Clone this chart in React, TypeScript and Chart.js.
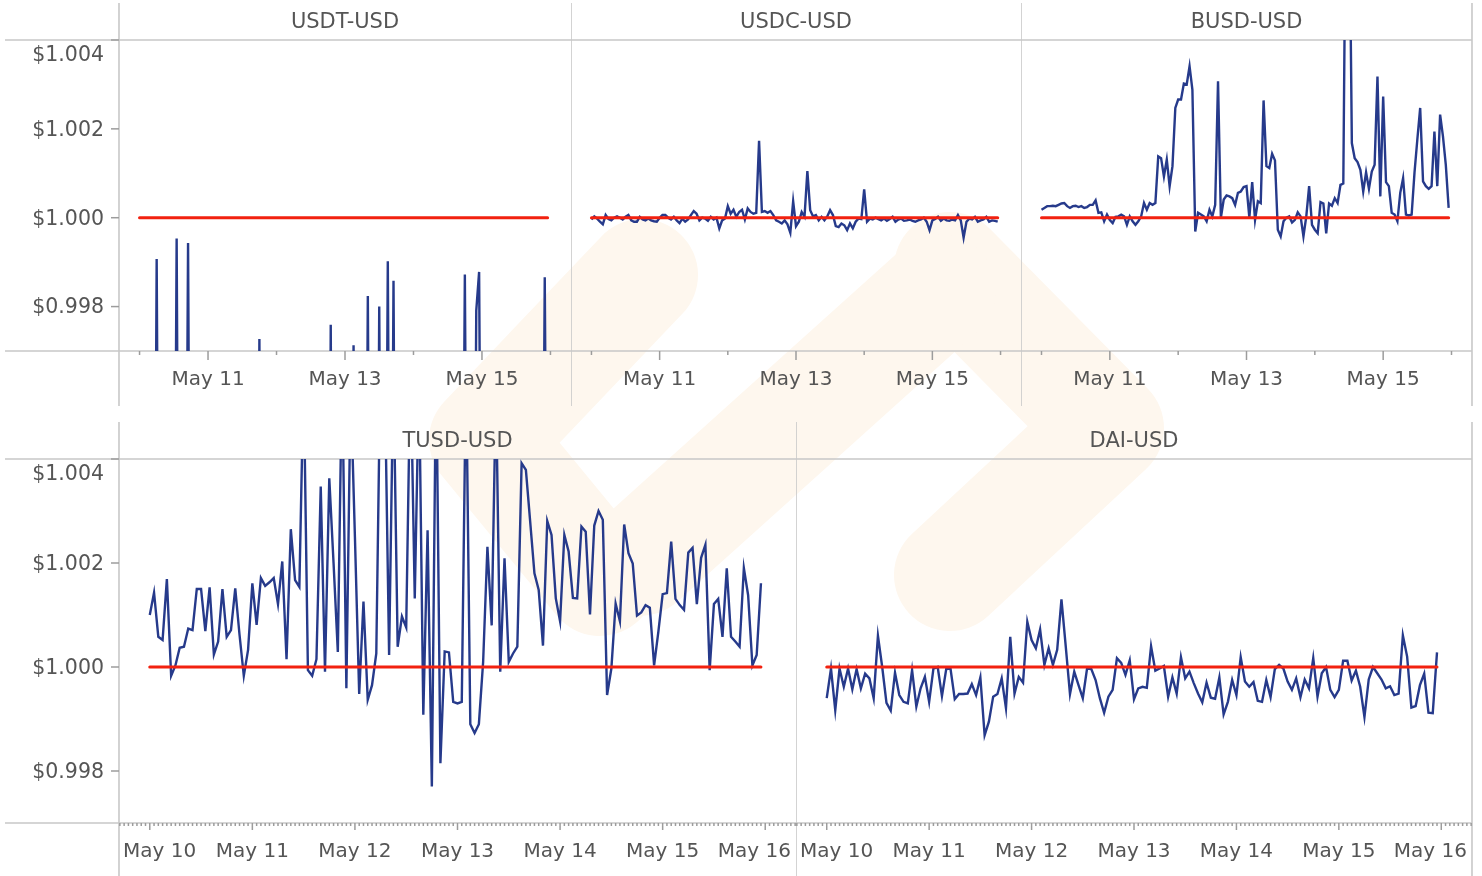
import React, { useEffect, useRef } from "react";
import { Chart, registerables } from "chart.js";

Chart.register(...registerables);

// hourly observations, hours since May 10 00:00 (144 points)
const HOURS: number[] = Array.from({ length: 144 }, (_, i) => i);
const DAY_LABELS = ["May 10", "May 11", "May 12", "May 13", "May 14", "May 15", "May 16"];
const Y_TICKS = [0.998, 1.0, 1.002, 1.004];
const PEG = 1.0;

const USDT = [
  0.9885, 0.9878, 0.9890, 0.9872, 0.9881, 0.9869, 0.99907, 0.9874, 0.9866, 0.9880, 0.9871, 0.9862,
  0.9877, 0.99953, 0.9868, 0.9875, 0.9883, 0.99943, 0.9870, 0.9864, 0.9858, 0.9866, 0.9851, 0.9860,
  0.9848, 0.9855, 0.9842, 0.9850, 0.9839, 0.9846, 0.9852, 0.9841, 0.9836, 0.9844, 0.9849, 0.9838,
  0.9845, 0.9832, 0.9840, 0.9847, 0.9835, 0.9843, 0.99727, 0.9838, 0.9829, 0.9836, 0.9824, 0.9831,
  0.9822, 0.9815, 0.9827, 0.9810, 0.9818, 0.9805, 0.9812, 0.9820, 0.9808, 0.9816, 0.9824, 0.9811,
  0.9819, 0.9826, 0.9814, 0.9829, 0.9835, 0.9822, 0.9838, 0.99759, 0.9844, 0.9851, 0.9839, 0.9856,
  0.9848, 0.9860, 0.9853, 0.99713, 0.9862, 0.9857, 0.9866, 0.9871, 0.99824, 0.9869, 0.9875, 0.9863,
  0.99800, 0.9872, 0.9880, 0.99902, 0.9876, 0.99858, 0.9868, 0.9874, 0.9881, 0.9870, 0.9877, 0.9884,
  0.9879, 0.9886, 0.9873, 0.9882, 0.9888, 0.9876, 0.9883, 0.9890, 0.9879, 0.9886, 0.9875, 0.9884,
  0.9891, 0.9880, 0.9887, 0.9878, 0.9885, 0.9892, 0.99872, 0.9883, 0.9889, 0.9878, 0.99791, 0.99878,
  0.9886, 0.9893, 0.9881, 0.9888, 0.9895, 0.9884, 0.9890, 0.9879, 0.9887, 0.9894, 0.9882, 0.9889,
  0.9896, 0.9885, 0.9892, 0.9880, 0.9888, 0.9895, 0.9883, 0.9890, 0.9898, 0.9886, 0.99866, 0.9891,
];

const USDC = [
  0.99996, 1.00003, 0.99998, 0.99991, 0.99985, 1.00006, 0.99997, 0.99994, 1.0, 1.00003, 1.0, 0.99996,
  1.00002, 1.00006, 0.99994, 0.99991, 0.99991, 1.00002, 0.99996, 0.99994, 0.99998, 0.99994, 0.99992, 0.99991,
  1.0, 1.00006, 1.00006, 1.0, 0.99996, 1.00002, 0.99994, 0.99988, 0.99998, 0.99991, 0.99996, 1.00006,
  1.00015, 1.00009, 0.99994, 1.0, 0.99998, 0.99993, 1.00002, 0.99996, 1.0, 0.99976, 0.99994, 0.99998,
  1.00026, 1.00009, 1.00018, 1.00002, 1.00013, 1.00018, 0.99996, 1.00021, 1.00013, 1.00009, 1.00011, 1.00173,
  1.00013, 1.00015, 1.00011, 1.00015, 1.00006, 0.99994, 0.99991, 0.99987, 0.99994, 0.99985, 0.99966, 1.00037,
  0.99981, 0.99991, 1.00013, 1.00002, 1.00105, 1.00017, 1.00003, 1.00006, 0.99994, 1.00002, 0.99994, 1.00003,
  1.00017, 1.00006, 0.99981, 0.99979, 0.99987, 0.99983, 0.99972, 0.99987, 0.99976, 0.99991, 0.99998, 0.99997,
  1.00064, 0.99991, 0.99998, 0.99996, 1.0, 0.99997, 0.99994, 0.99998, 0.99993, 0.99997, 1.00002, 0.99991,
  0.99996, 0.99998, 0.99993, 0.99994, 0.99996, 0.99993, 0.99991, 0.99994, 0.99996, 1.0, 0.99991, 0.99972,
  0.99994, 0.99997, 1.00002, 0.99993, 0.99998, 0.99994, 0.99993, 0.99996, 0.99994, 1.00006, 0.99994, 0.99955,
  0.99991, 0.99998, 0.99996, 1.00002, 0.99991, 0.99994, 0.99996, 1.00002, 0.99991, 0.99994, 0.99993, 0.99991,
];

const BUSD = [
  1.00018, 1.00022, 1.00026, 1.00026, 1.00027, 1.00026, 1.00029, 1.00032, 1.00033, 1.00026, 1.00022, 1.00026,
  1.00027, 1.00024, 1.00026, 1.00022, 1.00024, 1.00029, 1.00029, 1.00039, 1.00011, 1.00012, 0.99992, 1.00007,
  0.99995, 0.99988, 1.00002, 1.00003, 1.00007, 1.00003, 0.99984, 1.00003, 0.99992, 0.99984, 0.99992, 1.00003,
  1.00033, 1.00018, 1.00033, 1.00029, 1.00033, 1.00138, 1.00134, 1.00093, 1.00131, 1.00071, 1.00116, 1.00247,
  1.00266, 1.00266, 1.00302, 1.003, 1.00341, 1.00288, 0.99969, 1.00011, 1.00007, 1.00003, 0.99992, 1.00018,
  1.00003, 1.00029, 1.00307, 1.0, 1.00041, 1.0005, 1.00048, 1.00044, 1.00029, 1.00056, 1.00059, 1.00069,
  1.00071, 1.0, 1.0008, 0.99995, 1.00037, 1.00033, 1.00264, 1.00116, 1.00112, 1.00144, 1.00129, 0.99973,
  0.99958, 0.99992, 1.0, 1.00003, 0.99989, 0.99995, 1.00012, 1.00003, 0.99958, 1.00003, 1.00071, 0.99984,
  0.99973, 0.99965, 1.00035, 1.00032, 0.99965, 1.00032, 1.00027, 1.00044, 1.00033, 1.00074, 1.00077, 1.0085,
  1.008, 1.00168, 1.00134, 1.00125, 1.00108, 1.00059, 1.00102, 1.00065, 1.00104, 1.00119, 1.00318, 1.00048,
  1.00273, 1.0008, 1.00071, 1.00011, 1.00007, 0.99992, 1.00056, 1.00089, 1.00007, 1.00005, 1.00007, 1.00101,
  1.00176, 1.00247, 1.00082, 1.00071, 1.00065, 1.00071, 1.00194, 1.00071, 1.00232, 1.00183, 1.00119, 1.00022,
];

const TUSD = [
  1.001, 1.00143, 1.00058, 1.00052, 1.00169, 0.99983, 1.00003, 1.00037, 1.00039, 1.00074, 1.00071, 1.0015,
  1.0015, 1.00069, 1.00153, 1.00024, 1.00049, 1.0015, 1.00058, 1.00071, 1.00151, 1.00062, 0.99983, 1.00033,
  1.00161, 1.00081, 1.00171, 1.00156, 1.00163, 1.00171, 1.00121, 1.00203, 1.00015, 1.00265, 1.00167, 1.00154,
  1.0056, 0.99994, 0.99983, 1.00015, 1.00347, 0.99991, 1.00363, 1.002, 1.00029, 1.0058, 0.99959, 1.0054,
  1.0025, 0.99948, 1.00126, 0.99937, 0.99965, 1.00026, 1.0061, 1.0055, 1.00023, 1.0057, 1.00039, 1.00097,
  1.00076, 1.0059, 1.00132, 1.0056, 0.99908, 1.00263, 0.9977, 1.006, 0.99815, 1.0003, 1.00028, 0.99933,
  0.9993, 0.99933, 1.0058, 0.9989, 0.99873, 0.9989, 1.0001, 1.00231, 1.0008, 1.0054, 0.99991, 1.00209,
  1.0001, 1.00026, 1.00039, 1.00392, 1.00379, 1.0028, 1.0018, 1.00148, 1.00041, 1.00281, 1.00254, 1.00132,
  1.00088, 1.00254, 1.00222, 1.00133, 1.00132, 1.0027, 1.0026, 1.00101, 1.00272, 1.003, 1.00283, 0.99946,
  0.99997, 1.00122, 1.00088, 1.00274, 1.00219, 1.00199, 1.00099, 1.00105, 1.00119, 1.00114, 1.00003, 1.00068,
  1.0014, 1.00142, 1.00241, 1.00131, 1.00119, 1.0011, 1.0022, 1.00229, 1.00121, 1.0021, 1.00235, 0.99994,
  1.00121, 1.00131, 1.00058, 1.0019, 1.00058, 1.00049, 1.00039, 1.0019, 1.00138, 1.00003, 1.00023, 1.00161,
];

const DAI = [
  0.9994, 0.99997, 0.99917, 0.99997, 0.99962, 0.99997, 0.99957, 0.99996, 0.99959, 0.99987, 0.99978, 0.9994,
  1.0006, 1.0, 0.99931, 0.99916, 0.99989, 0.99946, 0.99933, 0.9993, 0.99994, 0.99924, 0.99959, 0.99981,
  0.99933, 0.99997, 1.0, 0.99944, 0.99996, 0.99997, 0.99938, 0.99948, 0.99948, 0.99949, 0.99967, 0.99946,
  0.9998, 0.99869, 0.99895, 0.99943, 0.99948, 0.99978, 0.99921, 1.00058, 0.99949, 0.99981, 0.9997, 1.00087,
  1.00052, 1.00036, 1.00072, 1.00004, 1.00036, 1.00004, 1.00033, 1.0013, 1.0004, 0.99948, 0.99991, 0.99965,
  0.9994, 0.99997, 0.99996, 0.99975, 0.9994, 0.99912, 0.99943, 0.99956, 1.00017, 1.00008, 0.99985, 1.00013,
  0.99938, 0.99959, 0.99962, 0.9996, 1.0004, 0.99993, 0.99997, 1.00002, 0.99943, 0.9998, 0.99949, 1.00019,
  0.99978, 0.99991, 0.99969, 0.99949, 0.99932, 0.9997, 0.99941, 0.99939, 0.9998, 0.99909, 0.99933, 0.99975,
  0.99946, 1.00019, 0.99972, 0.99962, 0.99971, 0.99935, 0.99933, 0.99975, 0.99942, 0.99996, 1.00004, 0.99997,
  0.99972, 0.99956, 0.99978, 0.99942, 0.99976, 0.99959, 1.00017, 0.99943, 0.99988, 1.0, 0.99956, 0.99942,
  0.99956, 1.00012, 1.00012, 0.99974, 0.99993, 0.99962, 0.99904, 0.99976, 1.0, 0.99988, 0.99976, 0.99959,
  0.99963, 0.99946, 0.99949, 1.00061, 1.0002, 0.99922, 0.99925, 0.99965, 0.99987, 0.99912, 0.99911, 1.00028,
];

// axis domain (hours), with padding around the 6-day window
const X_MIN = -7.2;
const X_MAX = 151.2;
const Y_MIN = 0.997;
const Y_MAX = 1.004;

const FAMILY = '"DejaVu Sans", "Liberation Sans", sans-serif';
const TEXT_COLOR = "#555555";
const FRAME_COLOR = "#c8c8c8";
const TICK_COLOR = "#9c9c9c";
const LINE_COLOR = "#263a8b";
const PEG_COLOR = "#f2210f";
const WATERMARK = "#fef7ee";

type Row = { rowTop: number; rowBottom: number; headerTop: number; plotTop: number; plotBottom: number; frameBottom: number; dense: boolean };
const ROW1: Row = { rowTop: 0, rowBottom: 412, headerTop: 3, plotTop: 40, plotBottom: 351, frameBottom: 406, dense: false };
const ROW2: Row = { rowTop: 412, rowBottom: 876, headerTop: 422, plotTop: 459, plotBottom: 823, frameBottom: 876, dense: true };

type Panel = { title: string; series: number[]; left: number; right: number; row: Row; yAxis: boolean; lastCol: boolean };

const PANELS: Panel[] = [
  { title: "USDT-USD", series: USDT, left: 119, right: 571, row: ROW1, yAxis: true, lastCol: false },
  { title: "USDC-USD", series: USDC, left: 571, right: 1021, row: ROW1, yAxis: false, lastCol: false },
  { title: "BUSD-USD", series: BUSD, left: 1021, right: 1472, row: ROW1, yAxis: false, lastCol: true },
  { title: "TUSD-USD", series: TUSD, left: 119, right: 796, row: ROW2, yAxis: true, lastCol: false },
  { title: "DAI-USD", series: DAI, left: 796, right: 1472, row: ROW2, yAxis: false, lastCol: true },
];

function makeDecor(p: Panel) {
  return {
    id: "decor",
    beforeDatasetsDraw(chart: any) {
      const ctx: CanvasRenderingContext2D = chart.ctx;
      const a = chart.chartArea;
      const xs = chart.scales.x;
      const ys = chart.scales.y;
      const r = p.row;
      const headerTop = r.headerTop - r.rowTop;
      const frameBottom = r.frameBottom - r.rowTop;
      ctx.save();
      // frame
      ctx.strokeStyle = FRAME_COLOR;
      ctx.lineWidth = 1.6;
      const lx = p.yAxis ? 5 : a.left;
      ctx.beginPath();
      ctx.moveTo(lx, a.top);
      ctx.lineTo(a.right, a.top);
      ctx.moveTo(lx, a.bottom);
      ctx.lineTo(a.right, a.bottom);
      ctx.moveTo(a.left, headerTop);
      ctx.lineTo(a.left, frameBottom);
      if (p.lastCol) {
        ctx.moveTo(a.right, headerTop);
        ctx.lineTo(a.right, frameBottom);
      }
      ctx.stroke();

      // header
      ctx.fillStyle = TEXT_COLOR;
      ctx.font = "21px " + FAMILY;
      ctx.textAlign = "center";
      ctx.textBaseline = "middle";
      ctx.fillText(p.title, (a.left + a.right) / 2, (headerTop + a.top) / 2 + 1.5);

      // y axis
      ctx.strokeStyle = TICK_COLOR;
      ctx.lineWidth = 1.5;
      if (p.yAxis) {
        ctx.textAlign = "right";
        ctx.font = "20.5px " + FAMILY;
        for (const v of Y_TICKS) {
          const py = ys.getPixelForValue(v);
          ctx.beginPath();
          ctx.moveTo(a.left - 8, py);
          ctx.lineTo(a.left, py);
          ctx.stroke();
          ctx.fillText("$" + v.toFixed(3), a.left - 15, Math.max(py, a.top + 14) + 1.5);
        }
      }

      // x axis
      ctx.font = "20px " + FAMILY;
      if (r.dense) {
        for (let hh = Math.ceil(X_MIN); hh <= Math.floor(X_MAX); hh++) {
          if (hh % 24 === 0) continue;
          const px = xs.getPixelForValue(hh);
          ctx.beginPath();
          ctx.moveTo(px, a.bottom);
          ctx.lineTo(px, a.bottom + 3);
          ctx.stroke();
        }
      }
      ctx.textAlign = "center";
      DAY_LABELS.forEach((lab, d) => {
        const px = xs.getPixelForValue(d * 24);
        const major = r.dense || d % 2 === 1;
        ctx.beginPath();
        ctx.moveTo(px, a.bottom);
        ctx.lineTo(px, a.bottom + (major ? (r.dense ? 7 : 9) : 4));
        ctx.stroke();
        if (major) {
          const w = ctx.measureText(lab).width;
          let cx = px;
          cx = Math.max(cx, a.left + 4 + w / 2);
          cx = Math.min(cx, a.right - 5 - w / 2);
          ctx.fillText(lab, cx, a.bottom + 28.5);
        }
      });
      ctx.restore();
    },
  };
}

function PanelChart({ p }: { p: Panel }) {
  const ref = useRef<HTMLCanvasElement | null>(null);
  const cl = p.yAxis ? 0 : p.left;
  const cr = p.lastCol ? 1482 : p.right;
  const w = cr - cl;
  const h = p.row.rowBottom - p.row.rowTop;
  useEffect(() => {
    if (!ref.current) return;
    const chart = new Chart(ref.current, {
      type: "line",
      data: {
        datasets: [
          {
            data: [
              { x: HOURS[0], y: PEG },
              { x: HOURS[HOURS.length - 1], y: PEG },
            ],
            borderColor: PEG_COLOR,
            borderWidth: 3,
            pointRadius: 0,
            borderCapStyle: "round",
            order: 0,
          },
          {
            data: HOURS.map((x, i) => ({ x, y: p.series[i] })),
            borderColor: LINE_COLOR,
            borderWidth: 2.4,
            pointRadius: 0,
            tension: 0,
            order: 1,
          },
        ],
      } as any,
      options: {
        responsive: false,
        animation: false,
        events: [],
        layout: {
          padding: {
            left: p.left - cl,
            right: cr - p.right,
            top: p.row.plotTop - p.row.rowTop,
            bottom: p.row.rowBottom - p.row.plotBottom,
          },
        },
        scales: {
          x: { type: "linear", min: X_MIN, max: X_MAX, display: false },
          y: { type: "linear", min: Y_MIN, max: Y_MAX, display: false },
        },
        plugins: { legend: { display: false }, tooltip: { enabled: false } },
      } as any,
      plugins: [makeDecor(p)],
    });
    return () => chart.destroy();
  }, []);
  return (
    <canvas
      ref={ref}
      width={w}
      height={h}
      style={{ position: "absolute", left: cl, top: p.row.rowTop, width: w, height: h }}
    />
  );
}

function Watermark() {
  return (
    <svg width={1482} height={876} style={{ position: "absolute", left: 0, top: 0 }}>
      <g fill="none" stroke={WATERMARK} strokeWidth={112} strokeLinecap="round" strokeLinejoin="round">
        <polyline points="642,275 485,440 600,580" />
        <polyline points="950,268 1108,428 950,575" />
        <line x1="640" y1="560" x2="940" y2="290" />
      </g>
    </svg>
  );
}

export default function App() {
  return (
    <div style={{ position: "absolute", left: 0, top: 0, width: 1482, height: 876, background: "#ffffff", overflow: "hidden" }}>
      <Watermark />
      {PANELS.map((p) => (
        <PanelChart key={p.title} p={p} />
      ))}
    </div>
  );
}
